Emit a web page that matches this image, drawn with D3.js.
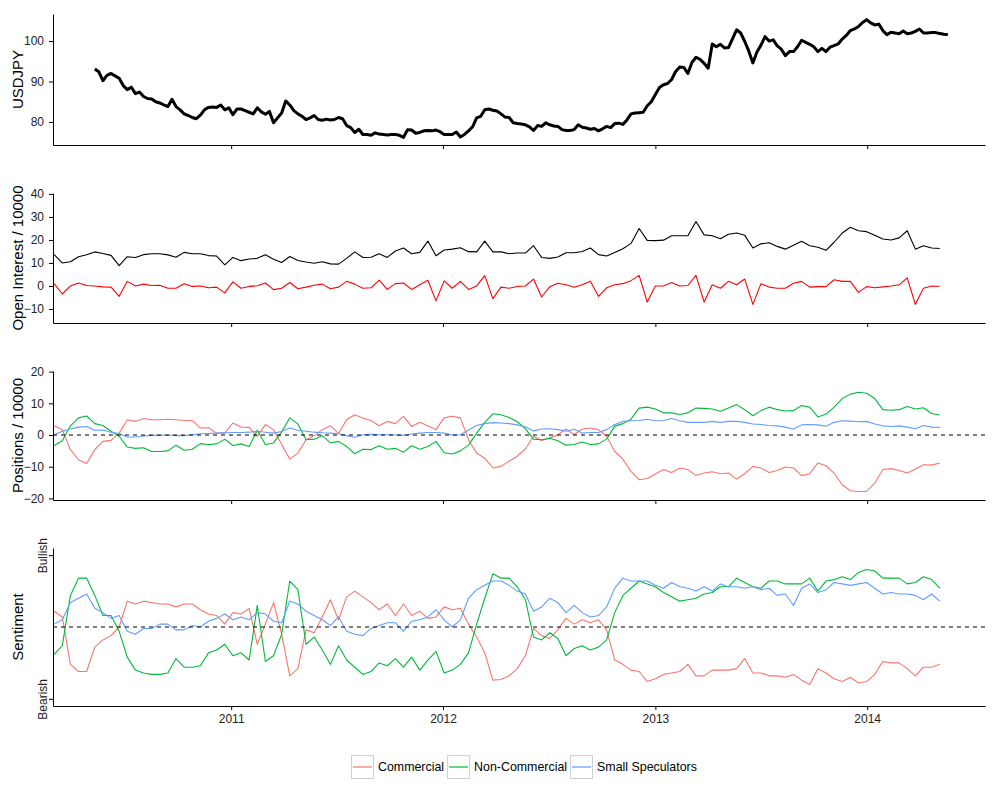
<!DOCTYPE html>
<html>
<head>
<meta charset="utf-8">
<script src="https://cdnjs.cloudflare.com/ajax/libs/d3/7.8.5/d3.min.js"></script>
<style>
body { margin: 0; background: #fff; }
svg text { font-family: "Liberation Sans", Arial, sans-serif; }
</style>
</head>
<body>
<div id="chart"></div>
<script>
// USDJPY close, one reading per week starting 2010-05-11
var fxStart = new Date(2010, 4, 11);
var usdjpy = [
  93.1, 92.4, 90.2, 91.5, 92.0, 91.4, 90.8, 89.0, 88.0, 88.6,
  87.0, 87.4, 86.3, 85.8, 85.7, 85.0, 84.7, 84.2, 83.8, 85.6,
  83.8, 83.0, 82.0, 81.6, 81.1, 80.8, 81.7, 83.0, 83.6, 83.7,
  83.6, 84.2, 83.0, 83.5, 81.8, 83.2, 83.2, 82.8, 82.4, 82.0,
  83.5, 82.5, 81.9, 82.6, 79.8, 81.0, 82.2, 85.2, 84.2, 82.8,
  82.0, 81.4, 80.6, 81.0, 81.6, 80.6, 80.4, 80.7, 80.5, 80.6,
  81.1, 80.8, 79.1, 78.6, 77.4, 78.2, 76.9, 76.9, 76.7, 77.3,
  77.0, 76.9, 76.8, 76.9, 76.9, 76.7, 76.2, 78.1, 78.0, 77.2,
  77.4, 77.8, 77.9, 77.8, 78.0, 77.6, 76.9, 76.9, 76.9, 77.5,
  76.3, 76.9, 77.8, 78.8, 81.0, 81.4, 83.0, 83.2, 82.9, 82.7,
  82.0, 81.2, 81.1, 79.8, 79.6, 79.5, 79.3, 78.8, 77.9, 79.1,
  78.9, 79.8, 79.3, 79.0, 78.9, 78.1, 77.9, 77.9, 78.1, 79.3,
  78.7, 78.5, 78.2, 78.4, 77.8, 78.3, 78.9, 78.6, 79.6, 79.7,
  79.4, 80.5, 82.0, 82.2, 82.3, 82.4, 84.0, 85.0, 86.8, 88.5,
  89.2, 89.5, 90.5, 92.5, 93.6, 93.5, 92.0, 94.7, 96.0, 95.5,
  94.5, 93.3, 99.3, 98.6, 99.2, 98.3, 98.4, 100.6, 102.8, 102.0,
  99.9, 97.5, 94.6, 97.3, 99.0, 101.1, 100.0, 100.3, 98.8, 98.0,
  96.4, 97.4, 97.4, 98.6, 100.2, 99.7, 99.2, 98.6, 97.4, 98.2,
  97.4, 98.5, 98.9, 99.3, 100.5, 101.4, 102.6, 103.0, 103.6, 104.6,
  105.3, 104.5, 104.0, 104.2, 102.6, 101.6, 102.2, 102.0, 101.8, 102.5,
  101.8, 102.0, 102.4, 103.0, 102.0, 102.0, 102.1, 102.1, 101.9, 101.7, 101.6
];

// COT report, one reading every two weeks starting 2010-03-02
var cotStart = new Date(2010, 2, 2);
var openInterest = [
  13.6, 10.0, 10.5, 12.7, 13.6, 14.8, 14.1, 13.3, 8.8, 12.7,
  12.4, 13.6, 14.0, 14.0, 13.5, 12.5, 14.6, 14.0, 14.0, 13.2,
  13.0, 9.2, 12.4, 11.0, 11.7, 12.0, 13.6, 11.6, 10.2, 12.8,
  11.1, 10.4, 9.9, 10.5, 9.6, 9.5, 12.0, 14.8, 12.4, 12.5,
  14.0, 12.4, 15.2, 16.5, 14.0, 14.6, 19.5, 13.1, 15.6, 16.0,
  16.6, 14.9, 14.8, 19.5, 14.8, 14.8, 14.0, 14.3, 14.3, 17.5,
  12.4, 12.0, 12.6, 14.4, 14.4, 15.0, 16.5, 13.6, 13.0, 14.5,
  16.2, 18.5, 25.0, 19.8, 19.7, 19.9, 21.8, 21.8, 21.8, 28.0,
  22.2, 21.8, 20.5, 22.5, 23.0, 22.0, 16.5, 18.3, 18.8, 17.2,
  16.0, 17.7, 19.4, 17.5, 16.8, 15.5, 19.0, 23.0, 25.5, 24.0,
  23.6, 22.0, 20.4, 20.0, 20.9, 24.0, 16.0, 17.5, 16.5, 16.3
];
var openInterestChange = [
  1.0, -3.5, 0.0, 1.3, 0.2, 0.0, -0.4, -0.5, -4.5, 2.0,
  0.0, 0.8, 0.2, 0.3, -1.0, -1.0, 1.0, -0.2, 0.0, -0.8,
  -0.5, -3.0, 1.8, -1.0, -0.2, 0.1, 1.3, -1.6, -1.0, 1.5,
  -1.2, -0.5, 0.3, 0.8, -1.2, -0.5, 2.0, 0.8, -1.0, -0.8,
  2.5, -1.5, 1.0, 1.3, -1.5, 0.5, 2.5, -6.5, 2.2, -1.0,
  2.0, -1.5, 0.0, 4.5, -5.5, -0.5, -1.0, -0.2, 0.0, 3.0,
  -4.8, -0.3, 1.2, 0.5, -0.6, 0.5, 2.0, -4.5, -0.8, 0.5,
  1.0, 2.3, 4.6, -7.0, 0.0, 0.0, 1.5, 0.0, 0.2, 4.6,
  -7.0, 0.5, -1.0, 2.0, 0.5, 3.0, -8.0, 1.0, -0.5, -1.0,
  -1.0, 1.2, 2.0, -0.5, -0.3, -0.3, 2.7, 2.0, 2.0, -2.8,
  -0.3, -0.8, -0.4, 0.0, 0.5, 3.5, -8.0, -1.0, 0.0, -0.1
];

var posCommercial = [
  2.9, 1.7, -4.6, -7.8, -9.0, -4.6, -2.0, -1.7, 0.6, 4.8,
  4.3, 5.2, 4.8, 4.8, 5.0, 4.8, 4.6, 4.6, 2.2, 2.3,
  0.6, 0.6, 3.8, 2.5, 2.4, -0.4, 3.3, 1.7, -3.0, -7.6,
  -5.7, -1.5, -0.2, 1.7, 2.9, 0.5, 4.8, 6.4, 5.4, 4.6,
  2.9, 4.3, 3.6, 5.9, 2.7, 4.0, 2.9, 1.7, 5.4, 5.9,
  5.4, -1.5, -5.7, -7.3, -10.4, -9.9, -8.3, -6.7, -4.4, -0.4,
  -1.7, -0.9, 0.1, 1.9, 0.1, 1.9, 2.2, 1.7, -0.4, -5.2,
  -7.6, -11.5, -14.1, -13.7, -12.3, -10.9, -11.8, -10.4, -10.9, -12.8,
  -12.0, -11.6, -12.2, -12.0, -13.9, -12.2, -9.9, -10.4, -11.8, -11.2,
  -10.1, -10.4, -12.8, -12.2, -8.8, -9.7, -12.0, -15.7, -17.6, -17.8,
  -17.8, -15.2, -10.9, -10.6, -11.2, -12.0, -10.7, -9.4, -9.5, -8.8
];
var posNonCommercial = [
  -3.3, -1.8, 2.9, 5.4, 6.0, 3.6, 3.0, 1.2, -0.4, -3.8,
  -4.2, -4.0, -5.2, -5.2, -5.0, -3.2, -4.8, -4.5, -2.7, -3.0,
  -2.8, -1.3, -3.3, -2.8, -3.6, 1.5, -3.0, -2.5, 1.0, 5.4,
  3.5, -1.5, -1.3, -0.2, -2.5, -2.0, -3.6, -5.9, -4.5, -4.6,
  -3.4, -4.5, -4.2, -5.4, -3.4, -4.5, -3.6, -2.0, -5.6, -6.0,
  -5.0, -3.2, 0.6, 4.0, 6.7, 6.4, 5.5, 4.2, 2.0, -1.3,
  -1.5, -1.0, -1.8, -3.2, -3.0, -2.2, -3.0, -2.8, -1.3, 2.8,
  3.6, 5.0, 8.5, 8.8, 8.2, 7.0, 7.0, 6.5, 7.0, 8.5,
  8.4, 8.2, 7.5, 8.5, 9.6, 8.0, 6.1, 7.7, 8.8, 8.0,
  7.6, 7.7, 9.3, 8.8, 5.7, 6.6, 8.8, 11.5, 12.9, 13.5,
  13.2, 11.5, 8.0, 7.8, 8.0, 9.0, 8.2, 8.6, 6.8, 6.3
];
var posSmallSpec = [
  0.1, 1.2, 1.9, 2.5, 2.7, 1.5, 1.6, 0.9, 0.5, -0.6,
  -0.6, -0.3, -0.1, -0.1, 0.0, -0.2, -0.2, 0.1, 0.4, 0.5,
  0.6, 0.7, 0.8, 0.8, 0.9, 1.2, 0.9, 0.6, 1.1, 2.2,
  1.5, 1.2, 0.9, 0.7, 0.6, 0.4, -0.2, -0.7, 0.1, 0.2,
  0.1, 0.1, 0.0, -0.1, 0.3, 0.6, 0.8, 0.8, 0.6, 0.0,
  0.1, 1.6, 3.0, 3.6, 3.9, 3.8, 3.6, 3.2, 2.6, 1.3,
  1.9, 2.0, 1.7, 1.2, 1.8, 0.6, 0.8, 0.8, 1.7, 3.3,
  4.3, 4.5, 4.6, 5.0, 4.5, 4.6, 5.2, 4.5, 4.0, 4.0,
  4.0, 4.3, 4.0, 4.3, 4.3, 4.0, 3.5, 3.3, 3.0, 2.9,
  2.5, 1.9, 3.2, 3.3, 3.2, 2.8, 4.0, 4.5, 4.4, 4.2,
  4.3, 3.5, 2.9, 2.7, 2.9, 2.5, 2.0, 3.0, 2.5, 2.4
];

// sentiment, 0 = bearish, 100 = bullish
var sentCommercial = [
  61, 57, 24, 19, 19, 36, 41, 44, 50, 68,
  66, 68, 67, 66, 66, 64, 66, 66, 62, 59,
  58, 52, 60, 59, 63, 38, 52, 67, 45, 16,
  21, 48, 46, 57, 69, 55, 71, 75, 71, 67,
  62, 66, 58, 66, 58, 61, 56, 57, 64, 62,
  63, 52, 43, 32, 13, 13.5, 16, 21, 30, 49,
  44, 42, 48, 56, 52, 55, 53, 55, 48, 27,
  24, 20, 19, 12, 14, 17, 18, 19, 24, 16,
  16, 20, 20, 20, 21, 28, 18, 18, 16, 16,
  15, 17, 13, 10, 21, 18, 14, 12, 15, 11,
  12, 17, 26, 25, 25, 21, 16, 22, 22, 24
];
var sentNonCommercial = [
  31, 37, 72, 84, 84, 72, 58, 58, 47, 29,
  20, 18, 17, 17, 18, 28, 22, 22, 23, 32,
  34, 38, 30, 32, 27, 65, 26, 30, 45, 82,
  76, 38, 43, 34, 24, 37, 27, 22, 17, 19,
  25, 23, 28, 22, 29, 20, 27, 33, 18, 20,
  24, 32, 52, 70, 87, 84, 84, 78, 69, 43,
  41, 46, 42, 30, 35, 37, 34, 36, 41, 60,
  72, 77, 82, 80, 78, 74, 71, 68, 69, 70,
  73, 74, 78, 78, 84, 81, 78, 77, 82, 82,
  80, 80, 80, 84, 75, 82, 83, 85, 83, 88,
  90, 89, 84, 84, 84, 80, 81, 85, 83, 77
];
var sentSmallSpec = [
  52, 55, 67, 70, 73, 63, 60, 56, 58, 47,
  45, 49, 49, 52, 52, 48, 48, 51, 50, 54,
  56, 59, 55, 57, 55, 60, 59, 54, 53, 68,
  66, 61, 58, 55, 51, 57, 47, 45, 44, 49,
  51, 53, 53, 47, 54, 55, 57, 62, 55, 50,
  55, 70, 76, 79, 82, 82, 79, 75, 73, 61,
  64, 70, 67, 60, 65, 60, 57, 58, 64, 77,
  84, 82, 82, 82, 79, 77, 81, 78, 77, 75,
  78, 75, 80, 78, 78, 77, 78, 76, 77, 72,
  73, 65, 77, 80, 74, 76, 81, 80, 79, 80,
  81, 77, 73, 74, 73, 73, 72, 69, 73, 68
];

var groups = ['Commercial', 'Non-Commercial', 'Small Speculators'];
var groupColors = ['#F8766D', '#00BA38', '#619CFF'];
var yearTicks = [new Date(2011, 0, 1), new Date(2012, 0, 1), new Date(2013, 0, 1), new Date(2014, 0, 1)];

var fxDates = usdjpy.map((d, i) => d3.timeDay.offset(fxStart, i * 7));
var cotDates = openInterest.map((d, i) => d3.timeDay.offset(cotStart, i * 14));

var svg = d3.select('#chart').append('svg')
    .attr('width', 1000)
    .attr('height', 800);

var x = d3.scaleTime()
    .domain([new Date(2010, 1, 28), new Date(2014, 6, 23)])
    .range([53, 985]);

var panels = [
  {top: 14, bottom: 145, domain: [74.3, 106.7], ticks: [80, 90, 100], title: 'USDJPY',
   lines: [{values: usdjpy, dates: fxDates, color: '#000', width: 3}]},
  {top: 193, bottom: 323, domain: [-16.1, 40.4], ticks: [-10, 0, 10, 20, 30, 40], title: 'Open Interest / 10000',
   lines: [{values: openInterest, dates: cotDates, color: '#000', width: 1.1},
           {values: openInterestChange, dates: cotDates, color: '#ff0000', width: 1.1}]},
  {top: 371, bottom: 500, domain: [-20.5, 20.2], ticks: [-20, -10, 0, 10, 20], title: 'Positions / 10000', zero: 0,
   lines: [posCommercial, posNonCommercial, posSmallSpec].map((v, i) =>
     ({values: v, dates: cotDates, color: groupColors[i], width: 1.1}))},
  {top: 548, bottom: 706, domain: [-5, 105], ticks: [0, 100], title: 'Sentiment', zero: 50, labels: true,
   tickFormat: (d) => d === 100 ? 'Bullish' : 'Bearish',
   lines: [sentCommercial, sentNonCommercial, sentSmallSpec].map((v, i) =>
     ({values: v, dates: cotDates, color: groupColors[i], width: 1.1}))}
];

panels.forEach(drawPanel);
drawLegend();

function drawPanel(p) {
  var y = d3.scaleLinear().domain(p.domain).range([p.bottom, p.top]);
  var g = svg.append('g');

  var line = d3.line()
      .x((d) => x(d.date))
      .y((d) => y(d.value));

  p.lines.forEach((s) => {
    var pts = s.values.map((v, i) => ({date: s.dates[i], value: v}));
    g.append('path')
        .datum(pts)
        .attr('fill', 'none')
        .attr('stroke', s.color)
        .attr('stroke-width', s.width)
        .attr('stroke-linejoin', 'round')
        .attr('d', line);
  });

  if (p.zero !== undefined) {
    g.append('line')
        .attr('x1', 53).attr('x2', 985)
        .attr('y1', y(p.zero)).attr('y2', y(p.zero))
        .attr('stroke', '#000')
        .attr('stroke-width', 1)
        .attr('stroke-dasharray', '4,4');
  }

  // y axis
  var yAxis = d3.axisLeft(y).tickValues(p.ticks).tickSize(4).tickPadding(5).tickSizeOuter(0);
  if (p.tickFormat) yAxis.tickFormat(p.tickFormat);
  var ya = g.append('g')
      .attr('transform', 'translate(53,0)')
      .call(yAxis);
  styleAxis(ya);
  if (p.tickFormat) {
    ya.selectAll('text')
        .attr('transform', 'rotate(-90)')
        .attr('x', 0)
        .attr('y', -6)
        .attr('dy', 0)
        .attr('text-anchor', 'middle');
  }

  // x axis
  var xAxis = d3.axisBottom(x).tickValues(yearTicks).tickSize(4).tickPadding(4).tickSizeOuter(0);
  xAxis.tickFormat(p.labels ? d3.timeFormat('%Y') : () => '');
  var xa = g.append('g')
      .attr('transform', 'translate(0,' + p.bottom + ')')
      .call(xAxis);
  styleAxis(xa);

  g.append('text')
      .attr('transform', 'translate(23,' + (p.top + p.bottom) / 2 + ') rotate(-90)')
      .attr('text-anchor', 'middle')
      .attr('font-size', 15)
      .attr('fill', '#000')
      .text(p.title);
}

function styleAxis(a) {
  a.select('.domain').attr('stroke', '#000').attr('stroke-width', 1);
  a.selectAll('.tick line').attr('stroke', '#000');
  a.selectAll('.tick text').attr('font-size', 12).attr('fill', '#222')
      .attr('font-family', '"Liberation Sans", Arial, sans-serif');
}

function drawLegend() {
  var lg = svg.append('g').attr('transform', 'translate(351,755)');
  var cx = 0;
  groups.forEach((name, i) => {
    var item = lg.append('g').attr('transform', 'translate(' + cx + ',0)');
    item.append('rect')
        .attr('x', 0.5).attr('y', 0.5)
        .attr('width', 22).attr('height', 23)
        .attr('fill', '#fff')
        .attr('stroke', '#d0d0d0');
    item.append('line')
        .attr('x1', 2).attr('x2', 21)
        .attr('y1', 12).attr('y2', 12)
        .attr('stroke', groupColors[i])
        .attr('stroke-width', 1.2);
    var t = item.append('text')
        .attr('x', 27).attr('y', 16)
        .attr('font-size', 12.4)
        .attr('fill', '#000')
        .text(name);
    cx += 27 + t.node().getComputedTextLength() + 3;
  });
}
</script>
</body>
</html>
